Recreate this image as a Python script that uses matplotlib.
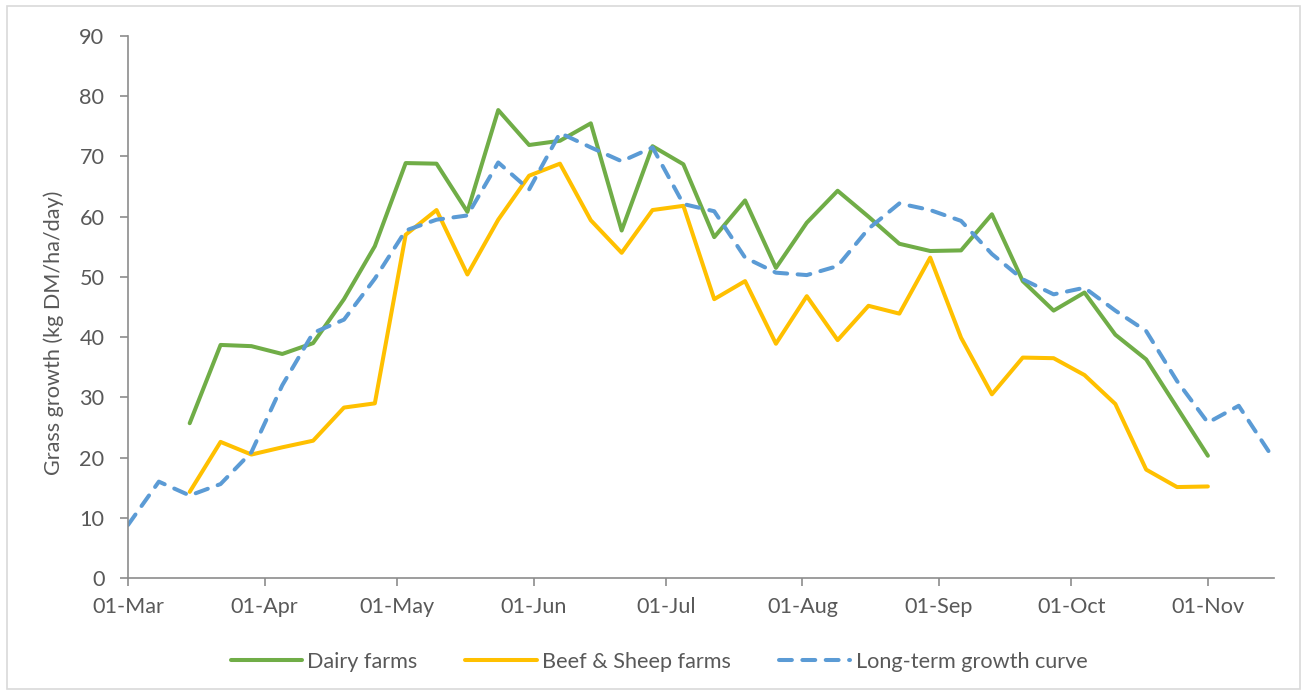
import matplotlib
matplotlib.use("Agg")
import matplotlib.pyplot as plt
import matplotlib.dates as mdates
import pandas as pd
from matplotlib.patches import Rectangle

plt.rcParams['font.family'] = ['Lato', 'DejaVu Sans']

# Weekly readings, days counted from 1 March
start = pd.Timestamp("2021-03-01")
longterm_dates = pd.date_range(start, periods=38, freq="7D")
farm_dates = pd.date_range(start + pd.Timedelta(days=14), periods=34, freq="7D")

longterm = [8.8, 16.0, 13.7, 15.6, 20.9, 32.0, 40.7, 42.9, 49.7, 57.7,
            59.5, 60.2, 69.0, 64.5, 73.9, 71.5, 69.2, 71.5, 62.1, 60.9,
            53.2, 50.7, 50.3, 51.8, 58.0, 62.2, 61.1, 59.3, 53.8, 49.6,
            47.1, 48.2, 44.4, 41.0, 32.7, 25.8, 28.6, 20.8]

dairy = [25.7, 38.7, 38.5, 37.2, 39.0, 46.3, 55.1, 68.9, 68.8, 60.8,
         77.7, 71.9, 72.6, 75.5, 57.7, 71.7, 68.7, 56.6, 62.7, 51.5,
         59.0, 64.3, 60.0, 55.5, 54.3, 54.4, 60.4, 49.3, 44.4, 47.4,
         40.4, 36.3, 28.3, 20.3]

beef_sheep = [14.3, 22.6, 20.5, 21.7, 22.8, 28.3, 29.0, 57.0, 61.1, 50.4,
              59.5, 66.8, 68.8, 59.4, 54.0, 61.1, 61.8, 46.3, 49.3, 38.9,
              46.8, 39.5, 45.2, 43.9, 53.2, 39.9, 30.5, 36.6, 36.5, 33.7,
              28.9, 18.0, 15.1, 15.2]

month_ticks = pd.date_range("2021-03-01", "2021-11-01", freq="MS")

GREEN = "#70AD47"
YELLOW = "#FFC000"
BLUE = "#5B9BD5"
AXIS = "#8C8C8C"
TEXT = "#595959"
FS = 15.6

fig = plt.figure(figsize=(13.03, 6.95), dpi=100)
ax = fig.add_axes([128 / 1303, 1 - 578 / 695, (1274 - 128) / 1303, (578 - 36) / 695])

lw = 2.9
ax.plot(farm_dates, dairy, color=GREEN, lw=lw, solid_joinstyle="round",
        solid_capstyle="round", label="Dairy farms")
ax.plot(farm_dates, beef_sheep, color=YELLOW, lw=lw, solid_joinstyle="round",
        solid_capstyle="round", label="Beef & Sheep farms")
ax.plot(longterm_dates, longterm, color=BLUE, lw=lw, linestyle=(0, (3.2, 2.6)),
        dash_capstyle="round", dash_joinstyle="round", label="Long-term growth curve")

ax.set_ylim(0, 90)
ax.set_yticks(range(0, 91, 10))
ax.set_xlim(start, start + pd.Timedelta(days=260))
ax.set_xticks(month_ticks)
ax.xaxis.set_major_formatter(mdates.DateFormatter("%d-%b"))

for side in ("top", "right"):
    ax.spines[side].set_visible(False)
for side in ("left", "bottom"):
    ax.spines[side].set_color(AXIS)
    ax.spines[side].set_linewidth(1.2)

ax.tick_params(axis="both", colors=AXIS, width=1.2, length=6, labelsize=FS,
               labelcolor=TEXT)
ax.tick_params(axis="y", pad=11)
ax.tick_params(axis="x", pad=8)

ax.set_ylabel("Grass growth (kg DM/ha/day)", fontsize=FS, color=TEXT)
ax.yaxis.set_label_coords(-0.056, 0.452)

leg = fig.legend(loc="center", bbox_to_anchor=(659 / 1303, 1 - 662 / 695), ncol=3,
                 frameon=False, fontsize=FS, handlelength=3.3, handletextpad=0.25,
                 columnspacing=2.2, labelcolor=TEXT)

fig.patches.append(Rectangle((7 / 1303, 1 - 689 / 695), (1300 - 7) / 1303, (689 - 6) / 695,
                             transform=fig.transFigure, fill=False,
                             edgecolor="#D9D9D9", lw=1.2))

fig.savefig("out.png", dpi=100)
